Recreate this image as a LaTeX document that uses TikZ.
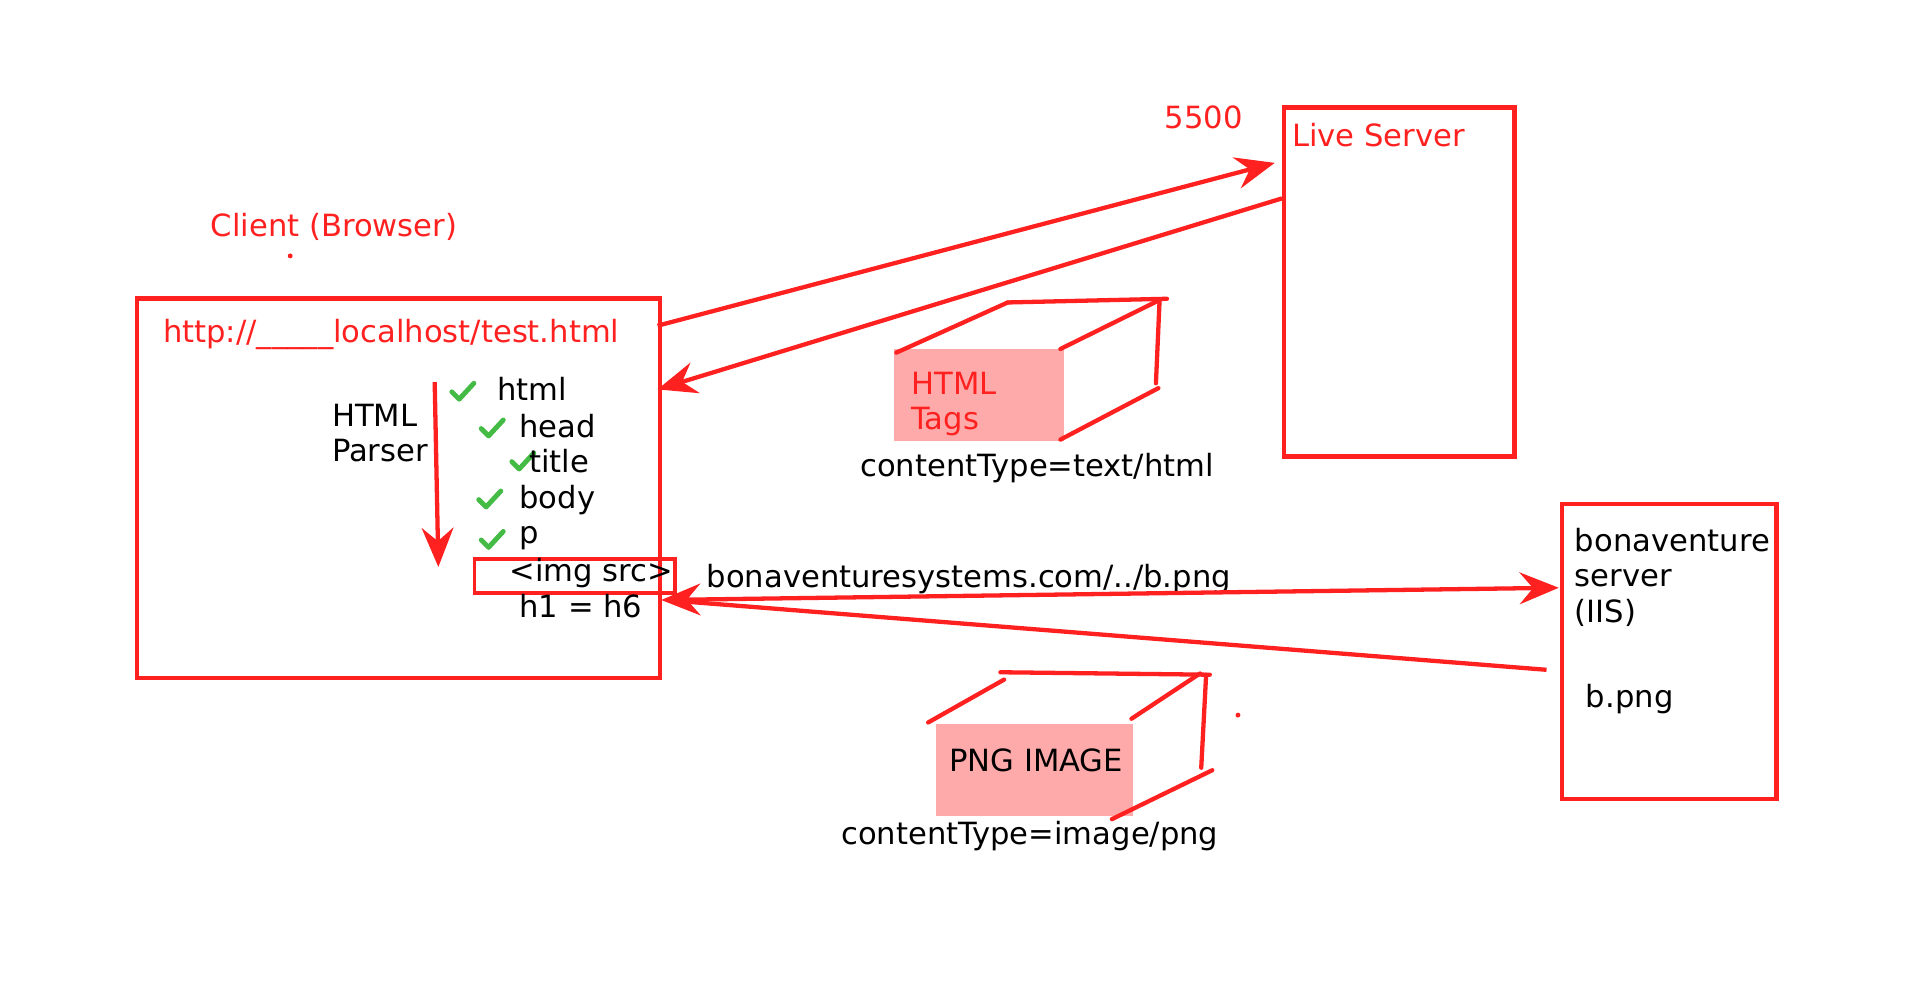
\documentclass[tikz,border=0pt]{standalone}
\usepackage{fontspec}
\setmainfont{DejaVu Sans}
\usetikzlibrary{arrows.meta}
\definecolor{myred}{RGB}{255,32,32}
\definecolor{mypink}{RGB}{255,170,170}
\definecolor{mygreen}{RGB}{68,187,68}
\begin{document}
\begin{tikzpicture}[x=1pt,y=-1pt,
  box/.style={draw=myred,line width=3.5pt,inner sep=0pt,anchor=north west},
  txt/.style={anchor=base west,inner sep=0pt,font=\fontsize{25}{29}\selectfont},
  rtxt/.style={txt,text=myred},
  ctxt/.style={txt,anchor=base},
  arr/.style={draw=myred,line width=3.5pt,-{Stealth[length=32pt,width=26pt,inset=11pt]}},
  ln/.style={draw=myred,line width=3.5pt,line cap=round},
  chk/.style={draw=mygreen,line width=4pt,line cap=round,line join=round},
  pink/.style={fill=mypink,inner sep=0pt,anchor=north west}]
\useasboundingbox (0,0) rectangle (1568,809);

% client
\node[rtxt] (clientlbl) at (172,193) {Client (Browser)};
\fill[myred] (237,209) circle (2);
\node[box,minimum width=427pt,minimum height=310pt] (client) at (110,242) {};
\node[rtxt] (url) at (133,280) {http://\_\_\_\_\_localhost/test.html};
\node[txt] (hp1) at (271,348) {HTML};
\node[txt] (hp2) at (271,377) {Parser};
\coordinate (p1) at (355,312);
\coordinate (p2) at (358,463);
\draw[arr] (p1) -- (p2);

\foreach \x/\y in {378/319,402/349,427/376,400/407,402/440}
  \draw[chk] (\x-9,\y+1) -- ++(6,6) -- ++(12,-13);

\node[txt] (t1) at (406,327) {html};
\node[txt] (t2) at (424,357) {head};
\node[txt] (t3) at (432,386) {title};
\node[txt] (t4) at (424,415) {body};
\node[txt] (t5) at (424,444) {p};
\node[box,line width=3pt,minimum width=164pt,minimum height=28pt] (img) at (386,455) {};
\node[txt] (t6) at (416,475) {<img src>};
\node[txt] (t7) at (424,504) {h1 = h6};

% live server
\node[box,minimum width=188pt,minimum height=285pt] (live) at (1047,86) {};
\node[rtxt] (livelbl) at (1055,120) {Live Server};
\node[rtxt] (port) at (951,105) {5500};
\coordinate (c1) at (537,266);
\coordinate (l1) at (1041,133);
\draw[arr] (c1) -- (l1);
\coordinate (l2) at (1047,162);
\coordinate (c2) at (537,318);
\draw[arr] (l2) -- (c2);

% html tags packet
\node[pink,minimum width=139pt,minimum height=75pt] (tags) at (730,285) {};
\node[rtxt] (tg1) at (744,322) {HTML};
\node[rtxt] (tg2) at (744,351) {Tags};
\draw[ln] (732,288) -- (823,247);
\draw[ln] (823,247) -- (953,244);
\draw[ln] (866,285) -- (947,245);
\draw[ln] (947,245) -- (944,313);
\draw[ln] (946,317) -- (866,359);
\node[ctxt] (ct1) at (847,389) {contentType=text/html};

% bonaventure server
\node[box,minimum width=175pt,minimum height=241pt] (bona) at (1274,410) {};
\node[txt] (b1t) at (1286,450) {bonaventure};
\node[txt] (b2t) at (1286,479) {server};
\node[txt] (b3t) at (1286,508) {(IIS)};
\node[txt] (b4t) at (1295,578) {b.png};
\node[txt] (req) at (577,480) {bonaventuresystems.com/../b.png};
\coordinate (c3) at (540,490);
\coordinate (bb1) at (1273,480);
\draw[arr,{Stealth[length=32pt,width=26pt,inset=11pt]}-{Stealth[length=32pt,width=26pt,inset=11pt]}] (c3) -- (bb1);
\coordinate (bb2) at (1263,547);
\coordinate (c4) at (556,491);
\draw[draw=myred,line width=3.5pt] (bb2) -- (c4);

% png packet
\node[pink,minimum width=161pt,minimum height=75pt] (png) at (764,591) {};
\node[txt] (pngt) at (775,630) {PNG IMAGE};
\draw[ln] (758,590) -- (820,555);
\draw[ln] (817,549) -- (988,551);
\draw[ln] (924,587) -- (980,550);
\draw[ln] (985,551) -- (981,627);
\draw[ln] (990,629) -- (908,669);
\fill[myred] (1011,584) circle (2);
\node[ctxt] (ct2) at (841,690) {contentType=image/png};
\end{tikzpicture}
\end{document}
